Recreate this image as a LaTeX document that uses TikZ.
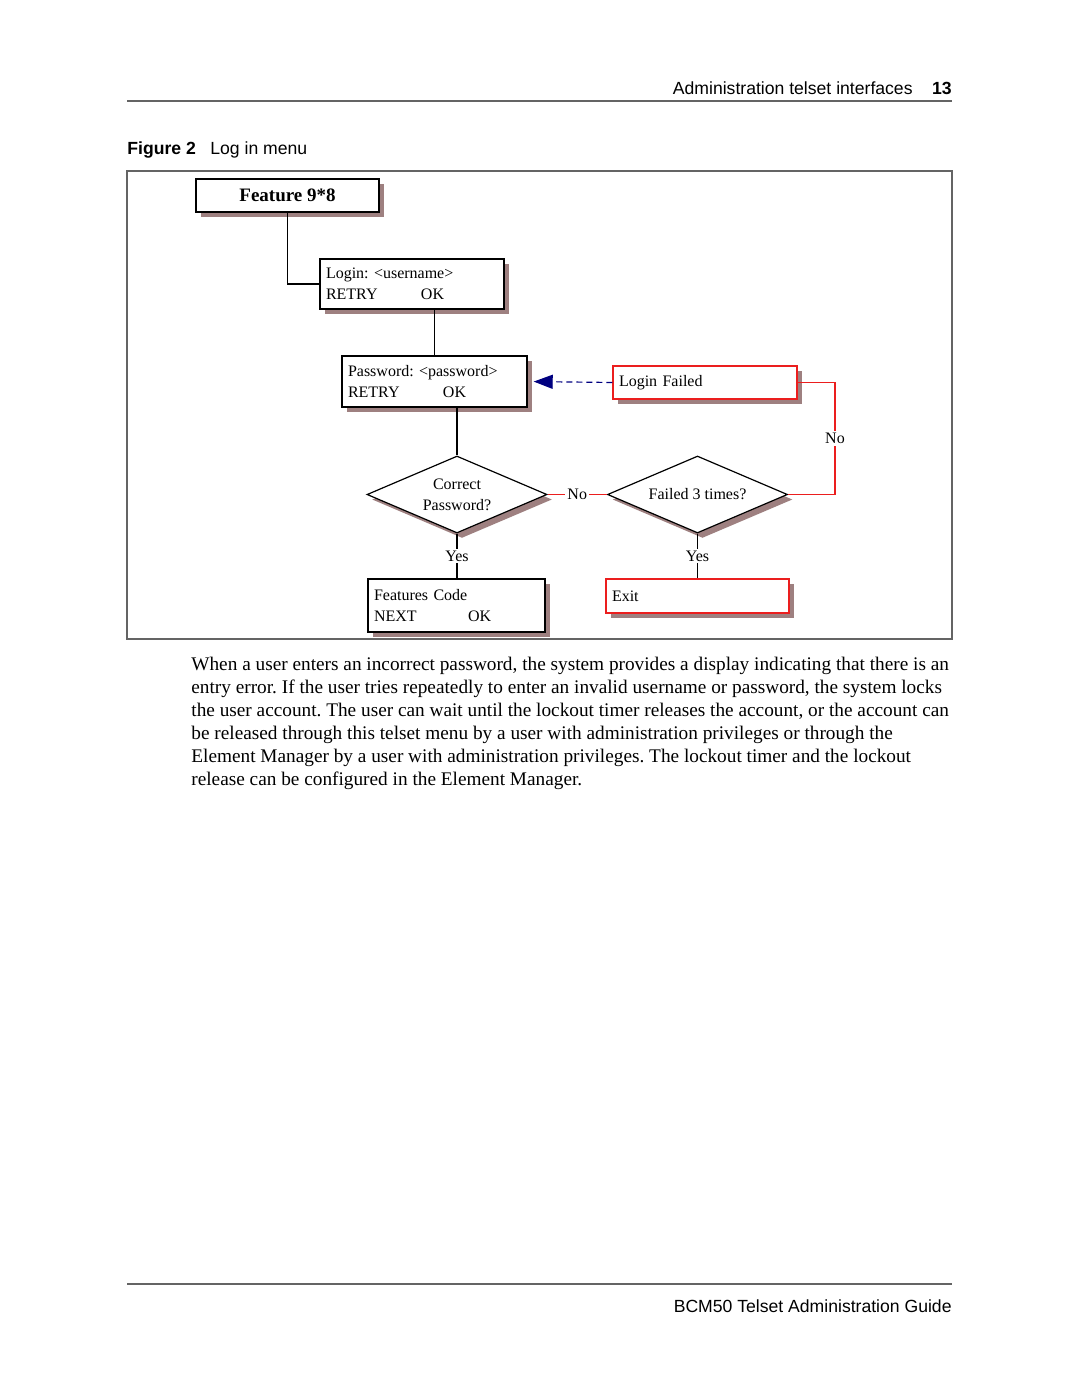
\documentclass[tikz,border=0pt]{standalone}
\usepackage{fontspec}
\setmainfont{Liberation Serif}
\newfontfamily\hv{Liberation Sans}
\usetikzlibrary{shapes.geometric,shadows,arrows.meta,calc}
\definecolor{shadowc}{RGB}{158,128,128}
\definecolor{framec}{RGB}{100,100,100}
\definecolor{navyc}{RGB}{0,0,128}
\definecolor{redc}{RGB}{235,30,30}
\frenchspacing
\begin{document}
\begin{tikzpicture}[x=0.5pt,y=-0.5pt,
  shad/.style={drop shadow={shadow xshift=2.5pt,shadow yshift=-2.5pt,fill=shadowc,opacity=1}},
  menubox/.style={draw,line width=0.7pt,fill=white,shad,inner xsep=3pt,inner ysep=0pt,align=left,anchor=center,font=\fontsize{8}{10.5}\selectfont},
  redbox/.style={menubox,draw=redc},
  decision/.style={diamond,draw,line width=0.6pt,fill=white,shad,inner sep=0pt,shape aspect=2.3,minimum width=90pt,minimum height=38.5pt,align=center,font=\fontsize{8}{10.5}\selectfont},
  lbl/.style={fill=white,inner sep=1pt,font=\fontsize{8}{10}\selectfont},
  conn/.style={line width=0.6pt},
  redconn/.style={line width=0.6pt,draw=redc},
  hdr/.style={inner sep=0pt,font=\hv\fontsize{8.8}{10}\selectfont}
]
\useasboundingbox (0,0) rectangle (1080,1397);
\fill[white] (0,0) rectangle (1080,1397);

% header
\draw[framec,line width=0.8pt] (127,101) -- (952,101);
\node[hdr,anchor=base east] (pg) at (952,94) {\bfseries 13};
\node[hdr,anchor=base east] (hd) at (913,94) {Administration telset interfaces};
\node[hdr,anchor=base west] (fig) at (127,154) {\bfseries Figure 2};
\node[hdr,anchor=base west] (cap) at (210,154) {Log in menu};

% frame
\draw[framec,line width=0.6pt] (127,171) rectangle (952,639);

% nodes
\node[menubox,minimum width=91.5pt,minimum height=16.5pt,align=center,font=\fontsize{9.5}{11}\selectfont\bfseries] (feat) at (287.5,195.5) {Feature 9*8};
\node[menubox,text width=86pt,minimum height=25pt] (login) at (412,284) {Login: <username>\\\makebox[47.5pt][l]{RETRY}OK};
\node[menubox,text width=86.5pt,minimum height=25.5pt] (pass) at (434.5,381.5) {Password: <password>\\\makebox[47.5pt][l]{RETRY}OK};
\node[redbox,text width=86pt,minimum height=16.5pt] (fail) at (705,382.5) {Login Failed};
\node[decision] (d1) at (457,494.5) {Correct\\Password?};
\node[decision] (d2) at (697.5,494.5) {Failed 3 times?};
\node[menubox,text width=82.5pt,minimum height=26.5pt] (code) at (456.5,605.5) {Features Code\\\makebox[47pt][l]{NEXT}OK};
\node[redbox,text width=85.5pt,minimum height=17pt] (exit) at (697.5,596) {Exit};

% connectors
\draw[conn] (feat.south) |- (login.west);
\draw[conn] (login.south -| pass.north) -- (pass.north);
\draw[conn] (pass.south -| d1.north) -- (d1.north);
\draw[conn] (d1.south) -- node[lbl]{Yes} (code.north -| d1.south);
\draw[conn] (d2.south) -- node[lbl]{Yes} (exit.north);
\draw[redconn] (d1.east) -- node[lbl]{No} (d2.west);
\coordinate (rc) at (835,382.5);
\draw[redconn] (d2.east) -| node[lbl,pos=0.75]{No} (rc) -- (fail.east);
\draw[navyc,line width=0.6pt,dash pattern=on 3pt off 2pt,-{Triangle[length=9.5pt,width=7pt]},shorten >=3pt] (fail.west) -- (pass.east);

% body text
\node[anchor=north west,inner sep=0pt,align=left,font=\fontsize{9.64}{11.5}\selectfont] (body) at (191,657) {When a user enters an incorrect password, the system provides a display indicating that there is an\\entry error. If the user tries repeatedly to enter an invalid username or password, the system locks\\the user account. The user can wait until the lockout timer releases the account, or the account can\\be released through this telset menu by a user with administration privileges or through the\\Element Manager by a user with administration privileges. The lockout timer and the lockout\\release can be configured in the Element Manager.};

% footer
\draw[framec,line width=0.8pt] (127,1284) -- (952,1284);
\node[hdr,anchor=base east] (foot) at (952,1312) {BCM50 Telset Administration Guide};
\end{tikzpicture}
\end{document}
